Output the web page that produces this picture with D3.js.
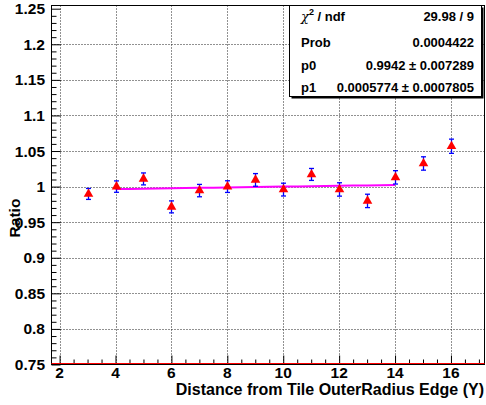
<!DOCTYPE html>
<html>
<head>
<meta charset="utf-8">
<script src="https://cdn.jsdelivr.net/npm/d3@7"></script>
<style>
  html, body { margin: 0; padding: 0; background: #fff; }
  svg { display: block; }
  text { font-family: "Liberation Sans", Arial, sans-serif; font-weight: 700; fill: #000; }
</style>
</head>
<body>
<svg id="chart" width="486" height="405"></svg>
<script>
// Ratio per distance bin, with errors
const distance = [3, 4, 5, 6, 7, 8, 9, 10, 11, 12, 13, 14, 15, 16];
const ratio    = [0.9897, 1.0000, 1.0108, 0.9715, 0.9944, 1.0000, 1.0094, 0.9958, 1.0171, 0.9960, 0.9799, 1.0130, 1.0325, 1.0567];
const ratioErr = [0.0077, 0.0080, 0.0084, 0.0084, 0.0087, 0.0082, 0.0089, 0.0090, 0.0084, 0.0094, 0.0094, 0.0094, 0.0094, 0.0100];

// Linear fit p0 + p1*x over the fit range
const fitRange = [4, 14];
const fitP0 = 0.9942;
const fitP1 = 0.0005774;

// Axis ticks
const xMajorTicks = [2, 4, 6, 8, 10, 12, 14, 16];
const yMajorTicks = [0.75, 0.8, 0.85, 0.9, 0.95, 1, 1.05, 1.1, 1.15, 1.2, 1.25];

// Fit statistics box rows
const statLabels = ["χ2 / ndf", "Prob", "p0", "p1"];
const statValues = ["29.98 / 9", "0.0004422", "0.9942 ± 0.007289", "0.0005774 ± 0.0007805"];

const svg = d3.select("#chart");
const frameL = 51.5, frameR = 484.5, frameT = 5.5, frameB = 364.5;

const x = d3.scaleLinear().domain([1.71, 17.2]).range([frameL, frameR]);
const y = d3.scaleLinear().domain([0.75, 1.2545]).range([frameB, frameT]);

// Grid lines
const grid = svg.append("g").attr("stroke", "#222").attr("stroke-width", 1).attr("stroke-dasharray", "1,2");
grid.selectAll("line.gx").data(xMajorTicks).join("line")
  .attr("x1", d => Math.round(x(d)) + 0.5).attr("x2", d => Math.round(x(d)) + 0.5)
  .attr("y1", frameT).attr("y2", frameB);
grid.selectAll("line.gy").data(yMajorTicks.filter(d => d > 0.75 && d < 1.25)).join("line")
  .attr("y1", d => Math.round(y(d)) + 0.5).attr("y2", d => Math.round(y(d)) + 0.5)
  .attr("x1", frameL).attr("x2", frameR);

// Bottom axis: ticks point up into the frame
const xAxis = d3.axisBottom(x).tickValues(d3.range(2, 17.01, 0.5)).tickSize(-5).tickFormat("");
const gx = svg.append("g").attr("transform", `translate(0,${frameB})`).call(xAxis);
gx.select(".domain").remove();
gx.selectAll(".tick line").attr("stroke", "#000")
  .attr("y2", d => Number.isInteger(d / 2) ? -9 : -5);
svg.append("g").selectAll("text").data(xMajorTicks).join("text")
  .attr("x", d => x(d)).attr("y", 377.5)
  .attr("text-anchor", "middle").attr("font-size", 15.5).text(d => d);

// Left axis: ticks point right into the frame
const yAxis = d3.axisLeft(y).tickValues(d3.range(0.75, 1.2501, 0.01).map(v => +v.toFixed(2))).tickSize(-5).tickFormat("");
const gy = svg.append("g").attr("transform", `translate(${frameL},0)`).call(yAxis);
gy.select(".domain").remove();
gy.selectAll(".tick line").attr("stroke", "#000")
  .attr("x2", d => Math.abs(d * 20 - Math.round(d * 20)) < 1e-6 ? 9 : 5);
svg.append("g").selectAll("text").data(yMajorTicks).join("text")
  .attr("x", 45).attr("y", d => y(d) + 5.5)
  .attr("text-anchor", "end").attr("font-size", 15.5).text(d => d);

// Axis titles
svg.append("text").attr("x", 484).attr("y", 394.5).attr("text-anchor", "end")
  .attr("font-size", 16).text("Distance from Tile OuterRadius Edge (Y)");
svg.append("text").attr("transform", "translate(20,218) rotate(-90)")
  .attr("text-anchor", "middle").attr("font-size", 15.5).text("Ratio");

// Frame
svg.append("rect").attr("x", frameL).attr("y", frameT).attr("width", frameR - frameL).attr("height", frameB - frameT)
  .attr("fill", "none").attr("stroke", "#000").attr("stroke-width", 1);
// Red baseline along the lower edge
svg.append("line").attr("x1", frameL).attr("x2", frameR).attr("y1", frameB - 1).attr("y2", frameB - 1)
  .attr("stroke", "#ff0000").attr("stroke-width", 1);

// Fit line
const fitLine = d3.line().x(d => x(d)).y(d => y(fitP0 + fitP1 * d));
svg.append("path").attr("d", fitLine(d3.range(fitRange[0], fitRange[1] + 0.001, 0.5)))
  .attr("fill", "none").attr("stroke", "#ff00ff").attr("stroke-width", 2);

// Error bars
const pts = distance.map((d, i) => ({ x: d, v: ratio[i], e: ratioErr[i] }));
const eb = svg.append("g").attr("stroke", "#0000ff").attr("stroke-width", 1.3);
eb.selectAll("line.v").data(pts).join("line")
  .attr("x1", d => Math.round(x(d.x)) + 0.5).attr("x2", d => Math.round(x(d.x)) + 0.5)
  .attr("y1", d => y(d.v - d.e)).attr("y2", d => y(d.v + d.e));
eb.selectAll("line.t").data(pts).join("line")
  .attr("x1", d => Math.round(x(d.x)) - 2).attr("x2", d => Math.round(x(d.x)) + 3)
  .attr("y1", d => y(d.v + d.e)).attr("y2", d => y(d.v + d.e));
eb.selectAll("line.b").data(pts).join("line")
  .attr("x1", d => Math.round(x(d.x)) - 2).attr("x2", d => Math.round(x(d.x)) + 3)
  .attr("y1", d => y(d.v - d.e)).attr("y2", d => y(d.v - d.e));

// Triangle markers
const tri = d3.symbol().type(d3.symbolTriangle).size(40);
svg.append("g").selectAll("path").data(pts).join("path")
  .attr("d", tri)
  .attr("transform", d => `translate(${Math.round(x(d.x)) + 0.5},${y(d.v)})`)
  .attr("fill", "#ff0000");

// Fit statistics box with shadow
const bx = 289.5, by = 5.5, bw = 192, bh = 91;
svg.append("rect").attr("x", bx + 2).attr("y", by + 2).attr("width", bw).attr("height", bh).attr("fill", "#000");
svg.append("rect").attr("x", bx).attr("y", by).attr("width", bw).attr("height", bh)
  .attr("fill", "#fff").attr("stroke", "#000").attr("stroke-width", 1);
const rowY = [21, 46.5, 69.5, 92];
const st = svg.append("g");
statLabels.forEach((lab, i) => {
  const t = st.append("text").attr("x", 301).attr("y", rowY[i]).attr("font-size", 13);
  if (i === 0) {
    t.append("tspan").attr("font-style", "italic").attr("font-family", "DejaVu Serif, serif").attr("font-weight", "normal").text("χ");
    t.append("tspan").attr("dy", -6).attr("font-size", 9).text("2");
    t.append("tspan").attr("dy", 6).text(" / ndf");
  } else {
    t.text(lab);
  }
  st.append("text").attr("x", 474).attr("y", rowY[i]).attr("text-anchor", "end")
    .attr("font-size", 13).text(statValues[i]);
});
</script>
</body>
</html>
